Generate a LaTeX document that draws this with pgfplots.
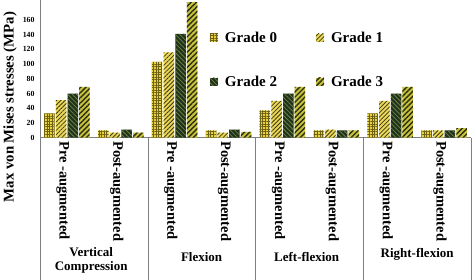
\documentclass[border=0pt]{standalone}
\usepackage{pgfplots}
\pgfplotsset{compat=1.18}
\usetikzlibrary{patterns.meta}
\usepackage{fontspec}
\setmainfont{Liberation Serif}
\definecolor{gzero}{HTML}{E6D244}
\definecolor{gzeroL}{HTML}{6E6210}
\definecolor{gone}{HTML}{EAD757}
\definecolor{goneL}{HTML}{3A3812}
\definecolor{gtwo}{HTML}{1E3318}
\definecolor{gtwoL}{HTML}{6F7E48}
\definecolor{gthree}{HTML}{C9C23C}
\definecolor{gthreeL}{HTML}{2A3012}
\begin{document}
\begin{tikzpicture}
\begin{axis}[
  name=ax,
  scale only axis,
  width=431pt, height=137.7pt,
  xmin=-0.5, xmax=7.5, ymin=0, ymax=187,
  ybar=1.2pt, bar width=10.5pt,
  axis x line=bottom, axis y line=left,
  axis line style={gray, -},
  xtick={0,...,7},
  xticklabels={Pre -augmented,Post-augmented,Pre -augmented,Post-augmented,Pre -augmented,Post-augmented,Pre -augmented,Post-augmented},
  x tick label style={rotate=-90, anchor=west, font=\bfseries\fontsize{14.5}{14.5}\selectfont, yshift=-4pt},
  ytick={0,20,...,160},
  y tick label style={font=\bfseries\fontsize{7.8}{8}\selectfont, xshift=-2pt},
  /pgf/number format/assume math mode=true,
  major tick length=0pt,
  clip=false,
  legend columns=2,
  legend style={at={(0.387,0.80)}, anchor=north west, draw=none, fill=none,
    font=\bfseries\fontsize{15}{15}\selectfont, row sep=28pt,
    /tikz/every odd column/.append style={column sep=5pt},
    /tikz/every even column/.append style={column sep=37pt}},
  legend image code/.code={\path[#1,draw=none] (0pt,-4pt) rectangle (8pt,4pt);},
]
\addplot[fill=gzero, draw=none, postaction={pattern={Hatch[distance=2.6pt,line width=0.6pt]}, pattern color=gzeroL}]
  coordinates {(0,33) (1,10) (2,103) (3,10) (4,37) (5,10) (6,33) (7,10)};
\addplot[fill=gone, draw=none, postaction={pattern={Lines[angle=45,distance=3pt,line width=0.8pt]}, pattern color=goneL}]
  coordinates {(0,51) (1,7) (2,116) (3,7) (4,50) (5,11) (6,50) (7,10)};
\addplot[fill=gtwo, draw=none, postaction={pattern={Lines[angle=-45,distance=3.2pt,line width=0.8pt]}, pattern color=gtwoL}]
  coordinates {(0,60) (1,11) (2,141) (3,11) (4,60) (5,10) (6,60) (7,10)};
\addplot[fill=gthree, draw=none, postaction={pattern={Lines[angle=45,distance=3.6pt,line width=1.4pt]}, pattern color=gthreeL}]
  coordinates {(0,69) (1,7) (2,184) (3,8) (4,69) (5,10) (6,69) (7,13)};
\legend{Grade 0,Grade 1,Grade 2,Grade 3}
\draw[gray] (axis cs:-0.5,0) -- ++(0pt,-142.3pt);
\draw[gray] (axis cs:1.5,0) -- ++(0pt,-142.3pt);
\draw[gray] (axis cs:3.5,0) -- ++(0pt,-142.3pt);
\draw[gray] (axis cs:5.5,0) -- ++(0pt,-142.3pt);
\draw[gray] (axis cs:7.5,0) -- ++(0pt,-142.3pt);
\node[font=\bfseries\fontsize{13}{14}\selectfont, align=center] at ([yshift=-123pt]axis cs:0.45,0) {Vertical\\Compression};
\node[font=\bfseries\fontsize{13}{14}\selectfont] at ([yshift=-119pt]axis cs:2.5,0) {Flexion};
\node[font=\bfseries\fontsize{13}{14}\selectfont] at ([yshift=-119pt]axis cs:4.45,0) {Left-flexion};
\node[font=\bfseries\fontsize{13}{14}\selectfont] at ([yshift=-117pt]axis cs:6.5,0) {Right-flexion};
\end{axis}
\node[rotate=90, font=\bfseries\fontsize{14.8}{14.8}\selectfont] at ([xshift=-30pt,yshift=-107pt]ax.north west) {Max von Mises stresses (MPa)};
\pgfresetboundingbox
\path ([xshift=-40pt,yshift=-142.3pt]ax.south west) rectangle ([xshift=1pt]ax.north east);
\end{tikzpicture}
\end{document}
